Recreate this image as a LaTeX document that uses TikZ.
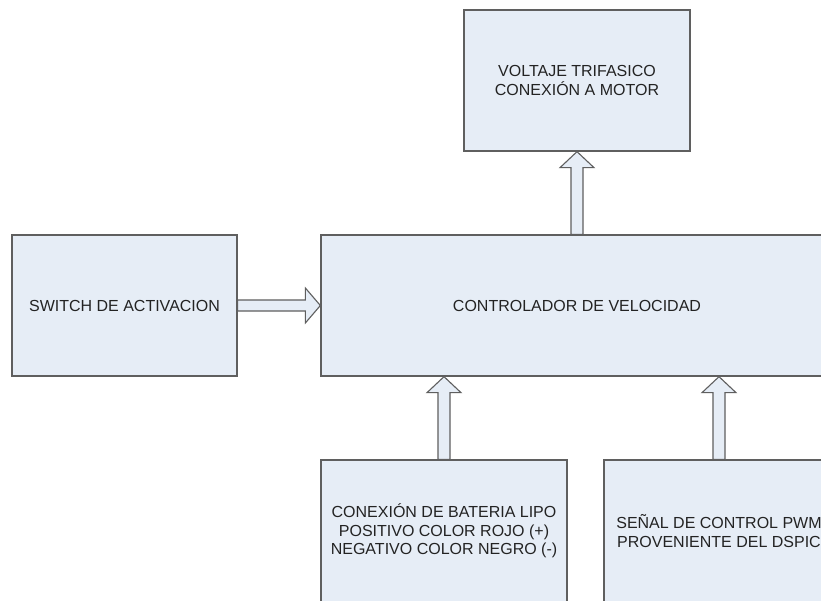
\documentclass[tikz,border=0pt]{standalone}
\usepackage{fontspec}
\setmainfont{Liberation Sans}
\usetikzlibrary{calc}
\definecolor{boxfill}{RGB}{230,237,246}
\definecolor{boxline}{RGB}{95,95,95}
\definecolor{txt}{RGB}{35,35,35}
\tikzset{
  blk/.style={draw=boxline, fill=boxfill, line width=1.3pt, inner sep=0pt,
    align=center, text=txt, font=\fontsize{16}{18.5}\selectfont},
  blockarr/.style={draw=boxline, fill=boxfill, line width=1.1pt, line join=miter}
}
% hollow block arrow pointing up, from anchor #1 (tail) to anchor #2 (tip)
\newcommand\uparrowblk[2]{%
  \draw[blockarr] let \p1=(#1), \p2=(#2) in
    (\x1-6pt,\y1) -- (\x1-6pt,\y2-16pt) -- (\x1-17pt,\y2-16pt) -- (\x2,\y2)
    -- (\x1+17pt,\y2-16pt) -- (\x1+6pt,\y2-16pt) -- (\x1+6pt,\y1) -- cycle;}
% hollow block arrow pointing right
\newcommand\rightarrowblk[2]{%
  \draw[blockarr] let \p1=(#1), \p2=(#2) in
    (\x1,\y1+5.5pt) -- (\x2-15pt,\y1+5.5pt) -- (\x2-15pt,\y1+17.5pt) -- (\x2,\y1)
    -- (\x2-15pt,\y1-17.5pt) -- (\x2-15pt,\y1-5.5pt) -- (\x1,\y1-5.5pt) -- cycle;}
\begin{document}
\begin{tikzpicture}[x=1pt,y=-1pt]
  \useasboundingbox (0,0) rectangle (821,600);
  \fill[white] (0,0) rectangle (821,600);
  \clip (0,0) rectangle (821,600);

  \node[blk, minimum width=226pt, minimum height=141pt] (motor) at (577,80.5)
    {VOLTAJE TRIFASICO\\CONEXIÓN A MOTOR};
  \node[blk, minimum width=225pt, minimum height=141pt] (switch) at (124.5,305.5)
    {SWITCH DE ACTIVACION};
  \node[blk, minimum width=512pt, minimum height=141pt] (ctrl) at (577,305.5)
    {CONTROLADOR DE VELOCIDAD};
  \node[blk, minimum width=246pt, minimum height=142pt] (bat) at (444,531)
    {CONEXIÓN DE BATERIA LIPO\\POSITIVO COLOR ROJO (+)\\NEGATIVO COLOR NEGRO (-)};
  \node[blk, minimum width=230pt, minimum height=142pt] (pwm) at (719,531)
    {SEÑAL DE CONTROL PWM\\PROVENIENTE DEL DSPIC};

  \uparrowblk{ctrl.north}{motor.south}
  \rightarrowblk{switch.east}{ctrl.west}
  \uparrowblk{bat.north}{bat.north |- ctrl.south}
  \uparrowblk{pwm.north}{pwm.north |- ctrl.south}
\end{tikzpicture}
\end{document}
